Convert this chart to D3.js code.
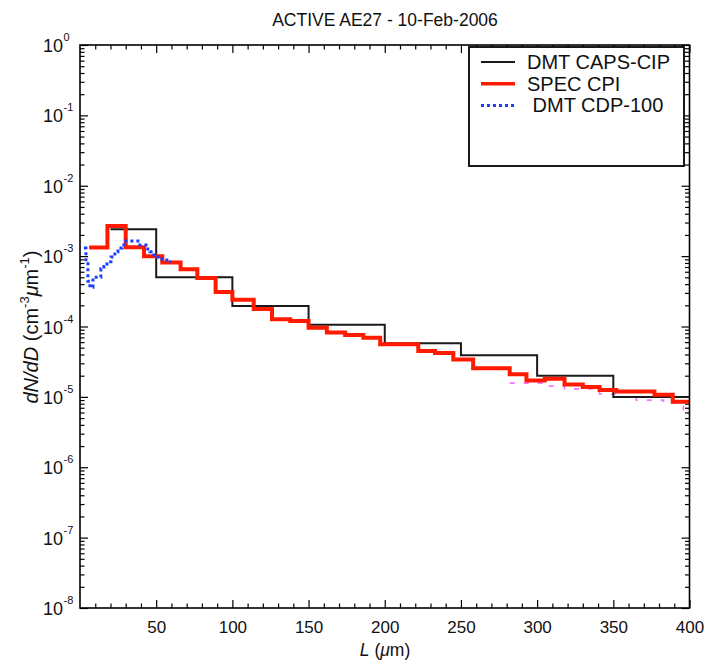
<!DOCTYPE html>
<html>
<head>
<meta charset="utf-8">
<script src="https://cdn.jsdelivr.net/npm/d3@7"></script>
<style>
  body { margin: 0; background: #fff; }
  svg { display: block; font-family: "Liberation Sans", Arial, sans-serif; }
  .tick line { stroke: #000; stroke-width: 1.2; }
  .domain { display: none; }
</style>
</head>
<body>
<svg id="chart" width="707" height="662"></svg>
<script>
// DMT CAPS-CIP (bin edges in um, dN/dD values)
const capsEdges = [20, 50, 100, 150, 200, 250, 300, 350, 400];
const capsValues = [2.4e-3, 5.0e-4, 1.95e-4, 1.06e-4, 5.8e-5, 3.9e-5, 2.0e-5, 1.0e-5];

// SPEC CPI
const cpiEdges = [6, 18, 30, 42, 54, 66, 77, 89, 100, 114, 126, 138, 150, 162, 174, 186, 197,
  210, 222, 233, 245, 258, 270, 282, 293, 305, 318, 330, 341, 352, 365, 377, 389, 400];
const cpiValues = [1.33e-3, 2.68e-3, 1.34e-3, 1.0e-3, 8.1e-4, 6.5e-4, 4.9e-4, 3.1e-4, 2.4e-4,
  1.77e-4, 1.27e-4, 1.2e-4, 9.6e-5, 8.2e-5, 7.6e-5, 6.9e-5, 5.6e-5, 5.6e-5, 4.5e-5, 4.2e-5,
  3.4e-5, 2.55e-5, 2.55e-5, 2.09e-5, 1.71e-5, 1.81e-5, 1.5e-5, 1.38e-5, 1.25e-5, 1.19e-5,
  1.19e-5, 1.07e-5, 8.5e-6];

// DMT CDP-100
const cdpEdges = [2.6, 3.9, 5.2, 6.5, 8.5, 11, 13.7, 15.7, 17.7, 20.3, 22.9, 24.9, 27.5, 30.1,
  36, 39.3, 43.3, 45.9, 48.5, 51.1, 53.8, 57, 59.7];
const cdpValues = [1.3e-3, 8.3e-4, 4.4e-4, 3.6e-4, 5.0e-4, 5.0e-4, 6.6e-4, 7.1e-4, 8.3e-4,
  9.7e-4, 1.15e-3, 1.3e-3, 1.44e-3, 1.64e-3, 1.64e-3, 1.44e-3, 1.26e-3, 1.15e-3, 1.04e-3,
  9.7e-4, 8.8e-4, 8.3e-4];

// faint magenta trace mostly hidden under the others (not in legend)
const extraEdges = [282, 305, 318, 341, 352, 365, 383, 396, 400];
const extraValues = [1.57e-5, 1.42e-5, 1.3e-5, 1.1e-5, 1.0e-5, 9.0e-6, 8.2e-6, 6.1e-6];

const xMajor = [50, 100, 150, 200, 250, 300, 350, 400];
const yExponents = [0, -1, -2, -3, -4, -5, -6, -7, -8];

const legendItems = [
  {label: 'DMT CAPS-CIP', color: '#1a1a1a', width: 2, dash: null},
  {label: 'SPEC CPI', color: '#ff1a00', width: 4, dash: null},
  {label: ' DMT CDP-100', color: '#1f3dff', width: 3, dash: '3,3'}
];

const svg = d3.select('#chart');
const x0 = 80, x1 = 689.5, y0 = 45, y1 = 608;

const x = d3.scaleLinear().domain([0, 400]).range([x0, x1]);
const y = d3.scaleLog().domain([1e-8, 1]).range([y1, y0]);

const yMajor = yExponents.map(e => Math.pow(10, e));
const yMinor = [];
yExponents.slice(1).forEach(e => {
  for (let j = 2; j <= 9; j++) yMinor.push(j * Math.pow(10, e));
});
const xMinor = d3.range(10, 400, 10).filter(v => v % 50 !== 0);

// ticks, all pointing inward
function addAxis(axis, tx, ty) {
  svg.append('g')
    .attr('transform', 'translate(' + tx + ',' + ty + ')')
    .call(axis);
}
addAxis(d3.axisBottom(x).tickValues(xMinor).tickSize(-4.5).tickSizeOuter(0).tickFormat(''), 0, y1);
addAxis(d3.axisTop(x).tickValues(xMinor).tickSize(-4.5).tickSizeOuter(0).tickFormat(''), 0, y0);
addAxis(d3.axisTop(x).tickValues(xMajor).tickSize(-8).tickSizeOuter(0).tickFormat(''), 0, y0);
addAxis(d3.axisLeft(y).tickValues(yMinor).tickSize(-4.5).tickSizeOuter(0).tickFormat(''), x0, 0);
addAxis(d3.axisLeft(y).tickValues(yMajor).tickSize(-8).tickSizeOuter(0).tickFormat(''), x0, 0);
addAxis(d3.axisRight(y).tickValues(yMinor).tickSize(-4.5).tickSizeOuter(0).tickFormat(''), x1, 0);
addAxis(d3.axisRight(y).tickValues(yMajor).tickSize(-8).tickSizeOuter(0).tickFormat(''), x1, 0);

const gx = svg.append('g')
  .attr('transform', 'translate(0,' + y1 + ')')
  .call(d3.axisBottom(x).tickValues(xMajor).tickSize(-8).tickSizeOuter(0).tickPadding(13));
gx.selectAll('text')
  .attr('font-size', 17)
  .attr('font-family', '"Liberation Sans", Arial, sans-serif')
  .attr('fill', '#111');

// y tick labels as 10 with superscript exponent
const yLab = svg.append('g');
yExponents.forEach(e => {
  yLab.append('text')
    .attr('x', 63)
    .attr('y', y(Math.pow(10, e)) + 7)
    .attr('text-anchor', 'end')
    .attr('font-size', 18)
    .attr('fill', '#111')
    .text('10');
  yLab.append('text')
    .attr('x', 63.5)
    .attr('y', y(Math.pow(10, e)) - 4)
    .attr('font-size', 11)
    .attr('fill', '#111')
    .text(e === 0 ? '0' : String(e));
});

// data traces
const plot = svg.append('g');
svg.append('clipPath').attr('id', 'clip')
  .append('rect').attr('x', x0).attr('y', y0).attr('width', x1 - x0).attr('height', y1 - y0);
plot.attr('clip-path', 'url(#clip)');

const step = d3.line()
  .x(d => x(d[0]))
  .y(d => y(d[1]))
  .curve(d3.curveStepAfter);

function stepPoints(edges, values) {
  const pts = values.map((v, i) => [edges[i], v]);
  pts.push([edges[edges.length - 1], values[values.length - 1]]);
  return pts;
}

plot.append('path')
  .attr('d', step(stepPoints(extraEdges, extraValues)))
  .attr('fill', 'none')
  .attr('stroke', '#ff70ff')
  .attr('stroke-width', 1.6)
  .attr('stroke-dasharray', '5,9');

plot.append('path')
  .attr('d', step(stepPoints(capsEdges, capsValues)))
  .attr('fill', 'none')
  .attr('stroke', legendItems[0].color)
  .attr('stroke-width', legendItems[0].width);

plot.append('path')
  .attr('d', step(stepPoints(cpiEdges, cpiValues)))
  .attr('fill', 'none')
  .attr('stroke', legendItems[1].color)
  .attr('stroke-width', legendItems[1].width);

plot.append('path')
  .attr('d', step(stepPoints(cdpEdges, cdpValues)))
  .attr('fill', 'none')
  .attr('stroke', legendItems[2].color)
  .attr('stroke-width', legendItems[2].width)
  .attr('stroke-dasharray', legendItems[2].dash);

// frame
svg.append('rect')
  .attr('x', x0).attr('y', y0)
  .attr('width', x1 - x0).attr('height', y1 - y0)
  .attr('fill', 'none')
  .attr('stroke', '#000')
  .attr('stroke-width', 1.6);

// legend
const lg = svg.append('g').attr('transform', 'translate(469,47)');
lg.append('rect')
  .attr('width', 215).attr('height', 119)
  .attr('fill', '#fff')
  .attr('stroke', '#000')
  .attr('stroke-width', 1.8);
legendItems.forEach((it, i) => {
  const ly = 15 + i * 21.7;
  lg.append('line')
    .attr('x1', 12).attr('x2', 46)
    .attr('y1', ly).attr('y2', ly)
    .attr('stroke', it.color)
    .attr('stroke-width', i === 1 ? 3.5 : it.width)
    .attr('stroke-dasharray', it.dash);
  lg.append('text')
    .attr('x', 58).attr('y', ly + 7)
    .attr('font-size', 20)
    .attr('fill', '#111')
    .attr('xml:space', 'preserve')
    .style('white-space', 'pre')
    .text(it.label);
});

// titles
svg.append('text')
  .attr('x', 385).attr('y', 26)
  .attr('text-anchor', 'middle')
  .attr('font-size', 17.5)
  .attr('fill', '#111')
  .text('ACTIVE AE27 - 10-Feb-2006');

const xl = svg.append('text')
  .attr('x', 385).attr('y', 656)
  .attr('text-anchor', 'middle')
  .attr('font-size', 17.5)
  .attr('fill', '#111');
xl.append('tspan').attr('font-style', 'italic').text('L');
xl.append('tspan').text(' (');
xl.append('tspan').attr('font-style', 'italic').text('μ');
xl.append('tspan').text('m)');

const yl = svg.append('text')
  .attr('transform', 'translate(38,327) rotate(-90)')
  .attr('text-anchor', 'middle')
  .attr('font-size', 20)
  .attr('fill', '#111');
yl.append('tspan').attr('font-style', 'italic').text('dN/dD');
yl.append('tspan').text(' (cm');
yl.append('tspan').attr('font-size', 13).attr('dy', -9).text('-3');
yl.append('tspan').attr('font-style', 'italic').attr('dy', 9).text('μ');
yl.append('tspan').text('m');
yl.append('tspan').attr('font-size', 13).attr('dy', -9).text('-1');
yl.append('tspan').attr('dy', 9).text(')');
</script>
</body>
</html>
